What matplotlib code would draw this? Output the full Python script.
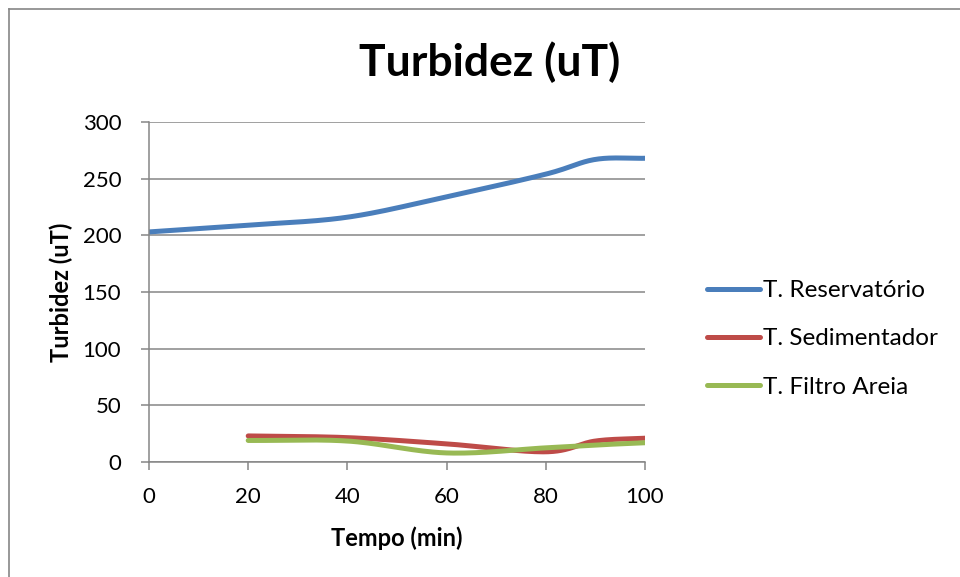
import matplotlib
matplotlib.use('Agg')
import matplotlib.pyplot as plt
from matplotlib.lines import Line2D
import numpy as np

# Values
TEMPO_RES = [0, 20, 40, 60, 80, 90, 100]
RESERVATORIO = [203, 209, 216, 234, 254, 267, 268]

TEMPO_TRAT = [20, 40, 60, 80, 90, 100]
SEDIMENTADOR = [23, 21.5, 16, 9, 18.5, 21]
FILTRO_AREIA = [19, 18.5, 8, 12.5, 15, 17]

SERIES_NAMES = ['T. Reservatório', 'T. Sedimentador', 'T. Filtro Areia']
COLORS = ['#4A7EBB', '#BE4B48', '#98B954']
GRID = '#868686'


def smooth(x, y, n=30):
    # Catmull-Rom style smoothing, like Excel's "smoothed line"
    x = np.asarray(x, float)
    y = np.asarray(y, float)
    px = np.concatenate([[2 * x[0] - x[1]], x, [2 * x[-1] - x[-2]]])
    py = np.concatenate([[2 * y[0] - y[1]], y, [2 * y[-1] - y[-2]]])
    xs, ys = [], []
    t = np.linspace(0, 1, n)
    for i in range(1, len(px) - 2):
        for arr, out in ((px, xs), (py, ys)):
            p0, p1, p2, p3 = arr[i - 1], arr[i], arr[i + 1], arr[i + 2]
            out.extend(0.5 * ((2 * p1) + (-p0 + p2) * t
                              + (2 * p0 - 5 * p1 + 4 * p2 - p3) * t ** 2
                              + (-p0 + 3 * p1 - 3 * p2 + p3) * t ** 3))
    return np.array(xs), np.array(ys)


plt.rcParams['font.family'] = ['Lato', 'DejaVu Sans']

fig = plt.figure(figsize=(9.6, 5.77), dpi=100)
fig.patch.set_facecolor('white')

# chart border (only left/top visible in the cropped original)
fig.add_artist(Line2D([9 / 960, 9 / 960], [0, 1 - 9 / 577], color=GRID, lw=1.2))
fig.add_artist(Line2D([9 / 960, 1], [1 - 9 / 577, 1 - 9 / 577], color=GRID, lw=1.2))

ax = fig.add_axes([149 / 960, 115 / 577, 496 / 960, 340 / 577])

for xs, ys, name, c in zip([TEMPO_RES, TEMPO_TRAT, TEMPO_TRAT],
                           [RESERVATORIO, SEDIMENTADOR, FILTRO_AREIA],
                           SERIES_NAMES, COLORS):
    sx, sy = smooth(xs, ys)
    ax.plot(sx, sy, color=c, lw=3.6, solid_capstyle='round', label=name)

ax.set_xlim(0, 100)
ax.set_ylim(0, 300)
ax.set_xticks(range(0, 101, 20))
ax.set_yticks(range(0, 301, 50))
ax.grid(axis='y', color=GRID, lw=1.1)
ax.set_axisbelow(True)
for s in ['top', 'right']:
    ax.spines[s].set_visible(False)
for s in ['left', 'bottom']:
    ax.spines[s].set_color(GRID)
    ax.spines[s].set_linewidth(1.1)
ax.tick_params(colors=GRID, labelcolor='black', labelsize=16, length=6, width=1.1)
ax.tick_params(axis='y', pad=14)
ax.tick_params(axis='x', pad=12)

ax.set_xlabel('Tempo (min)', fontsize=17, fontweight='bold', labelpad=14)
ax.set_ylabel('Turbidez (uT)', fontsize=17, fontweight='bold', labelpad=7)
fig.text(490 / 960, 1 - 62 / 577, 'Turbidez (uT)', fontsize=32, fontweight='bold',
         ha='center', va='center')

leg = ax.legend(loc='center left', bbox_to_anchor=(1.125, 0.362), frameon=False,
                fontsize=17.5, handlelength=2.2, handletextpad=0.1,
                labelspacing=1.12, borderpad=0, borderaxespad=0)

fig.savefig('out.png', dpi=100, facecolor='white')
